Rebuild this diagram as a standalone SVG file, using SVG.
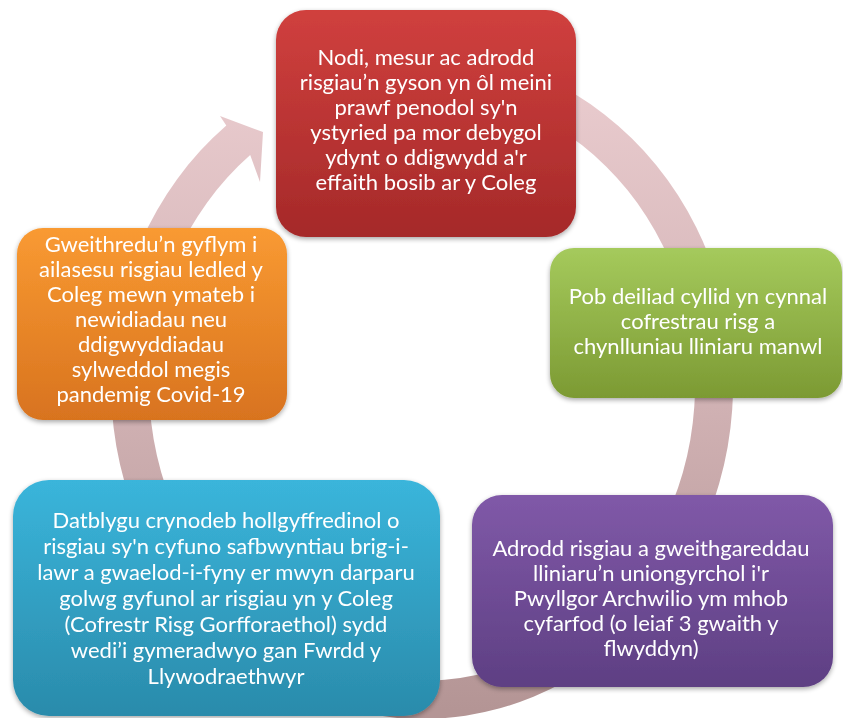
<svg xmlns="http://www.w3.org/2000/svg" width="843" height="718" viewBox="0 0 843 718">
<defs>
<linearGradient id="gArrow" gradientUnits="userSpaceOnUse" x1="0" y1="60" x2="0" y2="710">
<stop offset="0" stop-color="#ebcdd0"/>
<stop offset="0.5" stop-color="#d2b3b5"/>
<stop offset="1" stop-color="#b49595"/>
</linearGradient>
<linearGradient id="gRed" x1="0" y1="0" x2="0" y2="1"><stop offset="0" stop-color="#d0403e"/><stop offset="1" stop-color="#a52929"/></linearGradient>
<linearGradient id="gGreen" x1="0" y1="0" x2="0" y2="1"><stop offset="0" stop-color="#a5ca5c"/><stop offset="1" stop-color="#7c9a33"/></linearGradient>
<linearGradient id="gPurple" x1="0" y1="0" x2="0" y2="1"><stop offset="0" stop-color="#8059a8"/><stop offset="1" stop-color="#5e3f83"/></linearGradient>
<linearGradient id="gBlue" x1="0" y1="0" x2="0" y2="1"><stop offset="0" stop-color="#3ab5db"/><stop offset="1" stop-color="#2a8bab"/></linearGradient>
<linearGradient id="gOrange" x1="0" y1="0" x2="0" y2="1"><stop offset="0" stop-color="#f99a32"/><stop offset="1" stop-color="#d8731f"/></linearGradient>
<filter id="sh" x="-10%" y="-10%" width="120%" height="125%">
<feGaussianBlur in="SourceAlpha" stdDeviation="2.5"/>
<feOffset dx="0" dy="2" result="b"/>
<feComponentTransfer><feFuncA type="linear" slope="0.35"/></feComponentTransfer>
<feMerge><feMergeNode/><feMergeNode in="SourceGraphic"/></feMerge>
</filter>
</defs>
<style>
.t{font-family:Lato,"Open Sans","Liberation Sans",sans-serif;font-size:22px;fill:#ffffff;text-anchor:middle}
</style>
<g id="connectors">
<path d="M476,56 A311,334 0 1 1 226.3,125.4 L220,116 L263,132 L260,182 L250.2,155 A273,296 0 1 0 469.4,93.5 Z" fill="url(#gArrow)"/>
</g>
<g id="node-red" filter="url(#sh)">
<rect x="276" y="10" width="300" height="227" rx="30" fill="url(#gRed)"/>
<text class="t" x="426" y="65">Nodi, mesur ac adrodd</text>
<text class="t" x="426" y="90">risgiau’n gyson yn ôl meini</text>
<text class="t" x="426" y="115">prawf penodol sy'n</text>
<text class="t" x="426" y="140">ystyried pa mor debygol</text>
<text class="t" x="426" y="165">ydynt o ddigwydd a'r</text>
<text class="t" x="426" y="190">effaith bosib ar y Coleg</text>
</g>
<g id="node-green" filter="url(#sh)">
<rect x="550" y="248" width="292" height="150" rx="24" fill="url(#gGreen)"/>
<text class="t" x="698" y="304">Pob deiliad cyllid yn cynnal</text>
<text class="t" x="698" y="329">cofrestrau risg a</text>
<text class="t" x="698" y="354">chynlluniau lliniaru manwl</text>
</g>
<g id="node-purple" filter="url(#sh)">
<rect x="472" y="495" width="361" height="192" rx="30" fill="url(#gPurple)"/>
<text class="t" x="651" y="556">Adrodd risgiau a gweithgareddau</text>
<text class="t" x="651" y="581">lliniaru’n uniongyrchol i'r</text>
<text class="t" x="651" y="606">Pwyllgor Archwilio ym mhob</text>
<text class="t" x="651" y="631">cyfarfod (o leiaf 3 gwaith y</text>
<text class="t" x="651" y="656">flwyddyn)</text>
</g>
<g id="node-blue" filter="url(#sh)">
<rect x="13" y="480" width="427" height="236" rx="36" fill="url(#gBlue)"/>
<text class="t" x="226" y="528">Datblygu crynodeb hollgyffredinol o</text>
<text class="t" x="226" y="554">risgiau sy'n cyfuno safbwyntiau brig-i-</text>
<text class="t" x="226" y="580">lawr a gwaelod-i-fyny er mwyn darparu</text>
<text class="t" x="226" y="606">golwg gyfunol ar risgiau yn y Coleg</text>
<text class="t" x="226" y="632">(Cofrestr Risg Gorfforaethol) sydd</text>
<text class="t" x="226" y="658">wedi’i gymeradwyo gan Fwrdd y</text>
<text class="t" x="226" y="684">Llywodraethwyr</text>
</g>
<g id="node-orange" filter="url(#sh)">
<rect x="17" y="228" width="270" height="192" rx="26" fill="url(#gOrange)"/>
<text class="t" x="151" y="252">Gweithredu’n gyflym i</text>
<text class="t" x="151" y="277">ailasesu risgiau ledled y</text>
<text class="t" x="151" y="302">Coleg mewn ymateb i</text>
<text class="t" x="151" y="327">newidiadau neu</text>
<text class="t" x="151" y="352">ddigwyddiadau</text>
<text class="t" x="151" y="377">sylweddol megis</text>
<text class="t" x="151" y="402">pandemig Covid-19</text>
</g>
</svg>
